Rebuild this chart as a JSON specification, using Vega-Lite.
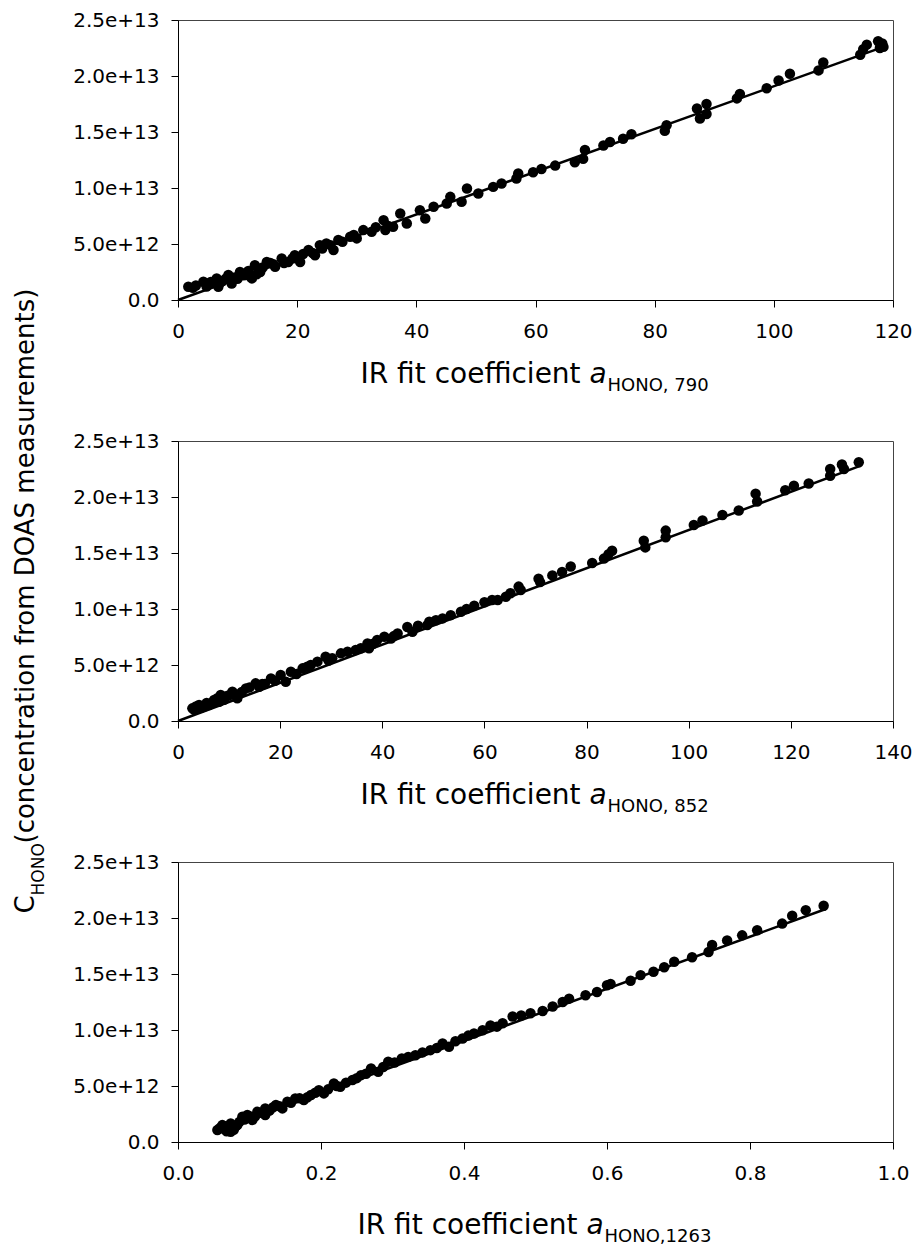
{
  "$schema": "https://vega.github.io/schema/vega-lite/v6.json",
  "background": "white",
  "padding": {"left": 11, "top": 9, "right": 5, "bottom": 5},
  "bounds": "flush",
  "spacing": 141,
  "config": {
    "font": "DejaVu Sans",
    "view": {"stroke": "#444", "strokeWidth": 1},
    "axis": {
      "grid": false,
      "domainColor": "black",
      "domainWidth": 1,
      "tickColor": "black",
      "tickWidth": 1,
      "tickSize": 7,
      "labelFont": "DejaVu Sans",
      "labelFontSize": 20,
      "labelColor": "black",
      "labelFlush": false,
      "labelOverlap": false,
      "titleFont": "DejaVu Sans",
      "titleFontWeight": "normal",
      "titleColor": "black"
    }
  },
  "datasets": {
    "p1": [
      {"x": 1.73, "y": 1.19e12}, {"x": 2.5, "y": 1.1e12}, {"x": 3.0, "y": 1.3e12}, {"x": 4.26, "y": 1.63e12}, {"x": 4.8, "y": 1.2e12}, {"x": 5.37, "y": 1.48e12}, {"x": 5.5, "y": 1.6e12},
      {"x": 6.49, "y": 1.93e12}, {"x": 6.77, "y": 1.19e12}, {"x": 7.0, "y": 1.5e12}, {"x": 7.5, "y": 1.7e12}, {"x": 8.0, "y": 1.9e12}, {"x": 8.45, "y": 2.23e12}, {"x": 9.01, "y": 1.48e12},
      {"x": 9.5, "y": 2.0e12}, {"x": 10.0, "y": 1.9e12}, {"x": 10.4, "y": 2.5e12}, {"x": 11.0, "y": 2.2e12}, {"x": 11.5, "y": 2.23e12}, {"x": 11.8, "y": 2.6e12}, {"x": 12.4, "y": 1.93e12},
      {"x": 12.9, "y": 3.1e12}, {"x": 13.2, "y": 2.3e12}, {"x": 13.8, "y": 2.5e12}, {"x": 14.2, "y": 2.9e12}, {"x": 14.9, "y": 3.4e12}, {"x": 15.5, "y": 3.3e12}, {"x": 16.0, "y": 3.2e12},
      {"x": 16.3, "y": 2.97e12}, {"x": 17.4, "y": 3.7e12}, {"x": 17.8, "y": 3.3e12}, {"x": 18.5, "y": 3.4e12}, {"x": 19.2, "y": 3.7e12}, {"x": 19.6, "y": 4.0e12},
      {"x": 20.5, "y": 3.4e12}, {"x": 21.0, "y": 4.1e12}, {"x": 21.9, "y": 4.46e12}, {"x": 22.6, "y": 4.2e12}, {"x": 23.0, "y": 4.0e12}, {"x": 23.8, "y": 4.9e12},
      {"x": 24.2, "y": 4.6e12}, {"x": 24.9, "y": 5.05e12}, {"x": 25.6, "y": 4.9e12}, {"x": 26.1, "y": 4.46e12}, {"x": 26.9, "y": 5.35e12}, {"x": 27.6, "y": 5.2e12},
      {"x": 28.9, "y": 5.65e12}, {"x": 29.5, "y": 5.8e12}, {"x": 30.0, "y": 5.5e12}, {"x": 31.1, "y": 6.24e12}, {"x": 32.5, "y": 6.1e12}, {"x": 33.2, "y": 6.5e12}, {"x": 34.5, "y": 7.13e12},
      {"x": 34.8, "y": 6.24e12}, {"x": 35.3, "y": 6.6e12}, {"x": 36.1, "y": 6.54e12}, {"x": 37.3, "y": 7.72e12}, {"x": 38.4, "y": 6.83e12},
      {"x": 40.6, "y": 8.02e12}, {"x": 41.5, "y": 7.28e12}, {"x": 42.9, "y": 8.32e12}, {"x": 45.1, "y": 8.62e12}, {"x": 45.7, "y": 9.21e12},
      {"x": 47.6, "y": 8.77e12}, {"x": 48.5, "y": 9.95e12}, {"x": 50.4, "y": 9.51e12}, {"x": 52.9, "y": 10.1e12}, {"x": 54.3, "y": 10.4e12},
      {"x": 56.8, "y": 10.85e12}, {"x": 57.1, "y": 11.3e12}, {"x": 59.6, "y": 11.4e12}, {"x": 61.0, "y": 11.7e12}, {"x": 63.3, "y": 12.0e12},
      {"x": 66.6, "y": 12.3e12}, {"x": 68.0, "y": 12.6e12}, {"x": 68.3, "y": 13.4e12}, {"x": 71.4, "y": 13.8e12}, {"x": 72.5, "y": 14.1e12},
      {"x": 74.7, "y": 14.4e12}, {"x": 76.1, "y": 14.8e12}, {"x": 81.7, "y": 15.1e12}, {"x": 82.0, "y": 15.6e12}, {"x": 87.1, "y": 17.1e12},
      {"x": 87.6, "y": 16.2e12}, {"x": 88.7, "y": 16.6e12}, {"x": 88.7, "y": 17.5e12}, {"x": 93.8, "y": 18.0e12}, {"x": 94.3, "y": 18.4e12},
      {"x": 98.8, "y": 18.9e12}, {"x": 100.8, "y": 19.6e12}, {"x": 102.7, "y": 20.2e12}, {"x": 107.5, "y": 20.5e12}, {"x": 108.3, "y": 21.2e12},
      {"x": 114.5, "y": 21.9e12}, {"x": 115.0, "y": 22.4e12}, {"x": 115.6, "y": 22.8e12}, {"x": 117.5, "y": 23.1e12}, {"x": 117.8, "y": 22.5e12},
      {"x": 118.4, "y": 22.6e12}, {"x": 118.2, "y": 22.9e12}
    ],
    "f1": [{"x": 0, "y": 0}, {"x": 118.4, "y": 22.6e12}],
    "p2": [
      {"x": 2.81, "y": 1.13e12}, {"x": 3.2, "y": 1.0e12}, {"x": 3.5, "y": 1.3e12}, {"x": 4.12, "y": 1.43e12}, {"x": 4.6, "y": 1.2e12}, {"x": 5.1, "y": 1.28e12}, {"x": 5.6, "y": 1.6e12}, {"x": 6.08, "y": 1.43e12},
      {"x": 6.6, "y": 1.6e12}, {"x": 7.06, "y": 1.87e12}, {"x": 7.6, "y": 2.0e12}, {"x": 8.04, "y": 1.72e12}, {"x": 8.36, "y": 2.32e12}, {"x": 9.0, "y": 1.9e12}, {"x": 9.5, "y": 2.2e12}, {"x": 10.0, "y": 2.3e12}, {"x": 10.65, "y": 2.61e12},
      {"x": 11.6, "y": 2.02e12}, {"x": 12.0, "y": 2.4e12}, {"x": 12.5, "y": 2.6e12}, {"x": 13.3, "y": 2.91e12}, {"x": 14.0, "y": 3.0e12}, {"x": 15.2, "y": 3.36e12}, {"x": 15.9, "y": 3.06e12},
      {"x": 16.5, "y": 3.3e12}, {"x": 17.0, "y": 3.3e12}, {"x": 18.2, "y": 3.8e12}, {"x": 19.0, "y": 3.6e12}, {"x": 20.1, "y": 4.1e12}, {"x": 21.1, "y": 3.5e12}, {"x": 22.1, "y": 4.4e12},
      {"x": 23.2, "y": 4.2e12}, {"x": 24.4, "y": 4.7e12}, {"x": 25.3, "y": 4.85e12}, {"x": 26.0, "y": 5.0e12}, {"x": 27.3, "y": 5.3e12}, {"x": 28.9, "y": 5.74e12}, {"x": 29.5, "y": 5.4e12},
      {"x": 30.2, "y": 5.6e12}, {"x": 31.9, "y": 6.04e12}, {"x": 33.2, "y": 6.19e12}, {"x": 34.8, "y": 6.34e12}, {"x": 35.8, "y": 6.5e12}, {"x": 37.1, "y": 6.93e12},
      {"x": 37.4, "y": 6.49e12}, {"x": 38.2, "y": 6.9e12}, {"x": 39.0, "y": 7.23e12}, {"x": 40.4, "y": 7.52e12}, {"x": 41.7, "y": 7.37e12}, {"x": 42.3, "y": 7.6e12}, {"x": 43.0, "y": 7.82e12},
      {"x": 44.9, "y": 8.4e12}, {"x": 45.9, "y": 7.97e12}, {"x": 47.0, "y": 8.5e12}, {"x": 48.8, "y": 8.56e12}, {"x": 49.2, "y": 8.86e12}, {"x": 50.5, "y": 9.0e12}, {"x": 51.8, "y": 9.16e12},
      {"x": 53.4, "y": 9.45e12}, {"x": 55.4, "y": 9.75e12}, {"x": 56.5, "y": 10.0e12}, {"x": 58.0, "y": 10.3e12}, {"x": 60.0, "y": 10.6e12}, {"x": 61.5, "y": 10.8e12}, {"x": 62.6, "y": 10.8e12},
      {"x": 64.2, "y": 11.1e12}, {"x": 65.1, "y": 11.4e12}, {"x": 66.7, "y": 12.0e12}, {"x": 67.1, "y": 11.7e12}, {"x": 70.6, "y": 12.7e12},
      {"x": 70.9, "y": 12.4e12}, {"x": 73.3, "y": 13.0e12}, {"x": 75.2, "y": 13.3e12}, {"x": 76.9, "y": 13.8e12}, {"x": 81.1, "y": 14.1e12},
      {"x": 83.4, "y": 14.5e12}, {"x": 84.3, "y": 14.9e12}, {"x": 85.0, "y": 15.2e12}, {"x": 91.2, "y": 16.1e12}, {"x": 91.5, "y": 15.5e12},
      {"x": 95.5, "y": 17.0e12}, {"x": 95.5, "y": 16.4e12}, {"x": 101.0, "y": 17.5e12}, {"x": 102.7, "y": 17.9e12}, {"x": 106.6, "y": 18.4e12},
      {"x": 109.8, "y": 18.8e12}, {"x": 113.1, "y": 20.3e12}, {"x": 113.4, "y": 19.6e12}, {"x": 118.9, "y": 20.6e12}, {"x": 120.6, "y": 21.0e12},
      {"x": 123.5, "y": 21.2e12}, {"x": 127.7, "y": 22.5e12}, {"x": 127.7, "y": 21.9e12}, {"x": 130.0, "y": 22.9e12}, {"x": 130.4, "y": 22.5e12},
      {"x": 133.3, "y": 23.1e12}
    ],
    "f2": [{"x": 0, "y": 0}, {"x": 133.7, "y": 22.8e12}],
    "p3": [
      {"x": 0.0551, "y": 1.07e12}, {"x": 0.058, "y": 1.2e12}, {"x": 0.060, "y": 1.3e12}, {"x": 0.062, "y": 1.51e12}, {"x": 0.065, "y": 1.4e12}, {"x": 0.0667, "y": 1.07e12}, {"x": 0.068, "y": 0.95e12}, {"x": 0.070, "y": 1.2e12},
      {"x": 0.072, "y": 1.35e12}, {"x": 0.0737, "y": 1.66e12}, {"x": 0.0737, "y": 0.92e12}, {"x": 0.076, "y": 1.5e12}, {"x": 0.078, "y": 1.1e12}, {"x": 0.080, "y": 1.35e12}, {"x": 0.083, "y": 1.51e12}, {"x": 0.086, "y": 1.8e12}, {"x": 0.090, "y": 2.25e12},
      {"x": 0.093, "y": 2.0e12}, {"x": 0.097, "y": 2.41e12}, {"x": 0.100, "y": 2.3e12}, {"x": 0.104, "y": 1.96e12}, {"x": 0.108, "y": 2.3e12}, {"x": 0.111, "y": 2.7e12}, {"x": 0.116, "y": 2.6e12}, {"x": 0.122, "y": 2.41e12}, {"x": 0.122, "y": 3.0e12},
      {"x": 0.128, "y": 2.8e12}, {"x": 0.133, "y": 3.1e12}, {"x": 0.137, "y": 3.3e12}, {"x": 0.142, "y": 3.2e12}, {"x": 0.146, "y": 3.0e12}, {"x": 0.153, "y": 3.6e12}, {"x": 0.158, "y": 3.5e12}, {"x": 0.164, "y": 3.89e12}, {"x": 0.170, "y": 3.9e12}, {"x": 0.176, "y": 3.74e12},
      {"x": 0.181, "y": 4.0e12}, {"x": 0.186, "y": 4.19e12}, {"x": 0.192, "y": 4.4e12}, {"x": 0.197, "y": 4.63e12}, {"x": 0.204, "y": 4.34e12}, {"x": 0.210, "y": 4.7e12}, {"x": 0.218, "y": 5.23e12}, {"x": 0.222, "y": 5.0e12}, {"x": 0.227, "y": 4.93e12},
      {"x": 0.235, "y": 5.3e12}, {"x": 0.244, "y": 5.53e12}, {"x": 0.250, "y": 5.7e12}, {"x": 0.256, "y": 5.97e12}, {"x": 0.263, "y": 6.1e12}, {"x": 0.270, "y": 6.57e12}, {"x": 0.280, "y": 6.27e12}, {"x": 0.287, "y": 6.7e12}, {"x": 0.294, "y": 7.16e12},
      {"x": 0.303, "y": 7.1e12}, {"x": 0.313, "y": 7.46e12}, {"x": 0.322, "y": 7.6e12}, {"x": 0.332, "y": 7.75e12}, {"x": 0.342, "y": 8.0e12}, {"x": 0.353, "y": 8.2e12}, {"x": 0.362, "y": 8.4e12}, {"x": 0.370, "y": 8.8e12}, {"x": 0.379, "y": 8.5e12},
      {"x": 0.388, "y": 9.0e12}, {"x": 0.398, "y": 9.24e12}, {"x": 0.406, "y": 9.5e12}, {"x": 0.414, "y": 9.69e12}, {"x": 0.426, "y": 9.98e12}, {"x": 0.437, "y": 10.4e12}, {"x": 0.446, "y": 10.3e12}, {"x": 0.454, "y": 10.6e12},
      {"x": 0.468, "y": 11.2e12}, {"x": 0.480, "y": 11.3e12}, {"x": 0.493, "y": 11.5e12}, {"x": 0.510, "y": 11.7e12}, {"x": 0.524, "y": 12.1e12}, {"x": 0.538, "y": 12.5e12},
      {"x": 0.547, "y": 12.8e12}, {"x": 0.570, "y": 13.1e12}, {"x": 0.586, "y": 13.4e12}, {"x": 0.600, "y": 14.0e12}, {"x": 0.605, "y": 14.1e12},
      {"x": 0.633, "y": 14.4e12}, {"x": 0.647, "y": 14.9e12}, {"x": 0.665, "y": 15.2e12}, {"x": 0.680, "y": 15.6e12}, {"x": 0.694, "y": 16.1e12},
      {"x": 0.719, "y": 16.5e12}, {"x": 0.742, "y": 16.96e12}, {"x": 0.747, "y": 17.6e12}, {"x": 0.768, "y": 18.0e12}, {"x": 0.789, "y": 18.45e12},
      {"x": 0.810, "y": 18.9e12}, {"x": 0.845, "y": 19.5e12}, {"x": 0.859, "y": 20.2e12}, {"x": 0.878, "y": 20.7e12}, {"x": 0.903, "y": 21.1e12}
    ],
    "f3": [{"x": 0.055, "y": 1.0e12}, {"x": 0.906, "y": 20.8e12}]
  },
  "vconcat": [
    {
      "width": 715,
      "height": 280,
      "resolve": {"axis": {"x": "independent", "y": "independent"}},
      "layer": [
        {
          "data": {"name": "p1"},
          "mark": {"type": "circle", "size": 110, "color": "black", "opacity": 1},
          "encoding": {
            "x": {"field": "x", "type": "quantitative", "scale": {"domain": [0, 120], "nice": false, "zero": false},
              "axis": {"values": [0, 20, 40, 60, 80, 100, 120], "labelPadding": 14, "title": "IR fit coefficient ", "titleX": 182, "titleY": 82, "titleAlign": "left", "titleBaseline": "alphabetic", "titleAngle": 0, "titleFontSize": 28}},
            "y": {"field": "y", "type": "quantitative", "scale": {"domain": [0, 2.5e13], "nice": false},
              "axis": {"values": [0, 5e12, 1e13, 1.5e13, 2e13, 2.5e13], "labelExpr": "datum.value == 0 ? '0.0' : format(datum.value, '.1e')", "labelPadding": 12, "title": null}}
          }
        },
        {
          "data": {"name": "f1"},
          "mark": {"type": "line", "color": "black", "strokeWidth": 2.5},
          "encoding": {
            "x": {"field": "x", "type": "quantitative", "axis": {"orient": "bottom", "domain": false, "ticks": false, "labels": false, "title": "a", "titleFontStyle": "italic", "titleX": 411, "titleY": 82, "titleAlign": "left", "titleBaseline": "alphabetic", "titleAngle": 0, "titleFontSize": 28}},
            "y": {"field": "y", "type": "quantitative", "axis": null}
          }
        },
        {
          "data": {"name": "f1"},
          "mark": {"type": "point", "opacity": 0},
          "encoding": {
            "x": {"field": "x", "type": "quantitative", "axis": {"orient": "bottom", "domain": false, "ticks": false, "labels": false, "title": "HONO, 790", "titleX": 429, "titleY": 90, "titleAlign": "left", "titleBaseline": "alphabetic", "titleAngle": 0, "titleFontSize": 18}},
            "y": {"field": "y", "type": "quantitative", "axis": null}
          }
        }
      ]
    },
    {
      "width": 715,
      "height": 280,
      "resolve": {"axis": {"x": "independent", "y": "independent"}},
      "layer": [
        {
          "data": {"name": "p2"},
          "mark": {"type": "circle", "size": 110, "color": "black", "opacity": 1},
          "encoding": {
            "x": {"field": "x", "type": "quantitative", "scale": {"domain": [0, 140], "nice": false, "zero": false},
              "axis": {"values": [0, 20, 40, 60, 80, 100, 120, 140], "labelPadding": 14, "title": "IR fit coefficient ", "titleX": 182, "titleY": 82, "titleAlign": "left", "titleBaseline": "alphabetic", "titleAngle": 0, "titleFontSize": 28}},
            "y": {"field": "y", "type": "quantitative", "scale": {"domain": [0, 2.5e13], "nice": false},
              "axis": {"values": [0, 5e12, 1e13, 1.5e13, 2e13, 2.5e13], "labelExpr": "datum.value == 0 ? '0.0' : format(datum.value, '.1e')", "labelPadding": 12,
                "title": "(concentration from DOAS measurements)", "titleX": -145, "titleY": 402, "titleAngle": -90, "titleAlign": "left", "titleBaseline": "alphabetic", "titleFontSize": 26}}
          }
        },
        {
          "data": {"name": "f2"},
          "mark": {"type": "line", "color": "black", "strokeWidth": 2.5},
          "encoding": {
            "x": {"field": "x", "type": "quantitative", "axis": {"orient": "bottom", "domain": false, "ticks": false, "labels": false, "title": "a", "titleFontStyle": "italic", "titleX": 411, "titleY": 82, "titleAlign": "left", "titleBaseline": "alphabetic", "titleAngle": 0, "titleFontSize": 28}},
            "y": {"field": "y", "type": "quantitative", "axis": {"orient": "left", "domain": false, "ticks": false, "labels": false, "title": "C", "titleX": -145, "titleY": 472, "titleAngle": -90, "titleAlign": "left", "titleBaseline": "alphabetic", "titleFontSize": 26}}
          }
        },
        {
          "data": {"name": "f2"},
          "mark": {"type": "point", "opacity": 0},
          "encoding": {
            "x": {"field": "x", "type": "quantitative", "axis": {"orient": "bottom", "domain": false, "ticks": false, "labels": false, "title": "HONO, 852", "titleX": 429, "titleY": 90, "titleAlign": "left", "titleBaseline": "alphabetic", "titleAngle": 0, "titleFontSize": 18}},
            "y": {"field": "y", "type": "quantitative", "axis": {"orient": "left", "domain": false, "ticks": false, "labels": false, "title": "HONO", "titleX": -135, "titleY": 454, "titleAngle": -90, "titleAlign": "left", "titleBaseline": "alphabetic", "titleFontSize": 17}}
          }
        }
      ]
    },
    {
      "width": 715,
      "height": 280,
      "resolve": {"axis": {"x": "independent", "y": "independent"}},
      "layer": [
        {
          "data": {"name": "p3"},
          "mark": {"type": "circle", "size": 110, "color": "black", "opacity": 1},
          "encoding": {
            "x": {"field": "x", "type": "quantitative", "scale": {"domain": [0, 1], "nice": false, "zero": false},
              "axis": {"values": [0, 0.2, 0.4, 0.6, 0.8, 1.0], "format": ".1f", "labelPadding": 14, "title": "IR fit coefficient ", "titleX": 179, "titleY": 91, "titleAlign": "left", "titleBaseline": "alphabetic", "titleAngle": 0, "titleFontSize": 28}},
            "y": {"field": "y", "type": "quantitative", "scale": {"domain": [0, 2.5e13], "nice": false},
              "axis": {"values": [0, 5e12, 1e13, 1.5e13, 2e13, 2.5e13], "labelExpr": "datum.value == 0 ? '0.0' : format(datum.value, '.1e')", "labelPadding": 12, "title": null}}
          }
        },
        {
          "data": {"name": "f3"},
          "mark": {"type": "line", "color": "black", "strokeWidth": 2.5},
          "encoding": {
            "x": {"field": "x", "type": "quantitative", "axis": {"orient": "bottom", "domain": false, "ticks": false, "labels": false, "title": "a", "titleFontStyle": "italic", "titleX": 408, "titleY": 91, "titleAlign": "left", "titleBaseline": "alphabetic", "titleAngle": 0, "titleFontSize": 28}},
            "y": {"field": "y", "type": "quantitative", "axis": null}
          }
        },
        {
          "data": {"name": "f3"},
          "mark": {"type": "point", "opacity": 0},
          "encoding": {
            "x": {"field": "x", "type": "quantitative", "axis": {"orient": "bottom", "domain": false, "ticks": false, "labels": false, "title": "HONO,1263", "titleX": 426, "titleY": 99, "titleAlign": "left", "titleBaseline": "alphabetic", "titleAngle": 0, "titleFontSize": 18}},
            "y": {"field": "y", "type": "quantitative", "axis": null}
          }
        }
      ]
    }
  ]
}
